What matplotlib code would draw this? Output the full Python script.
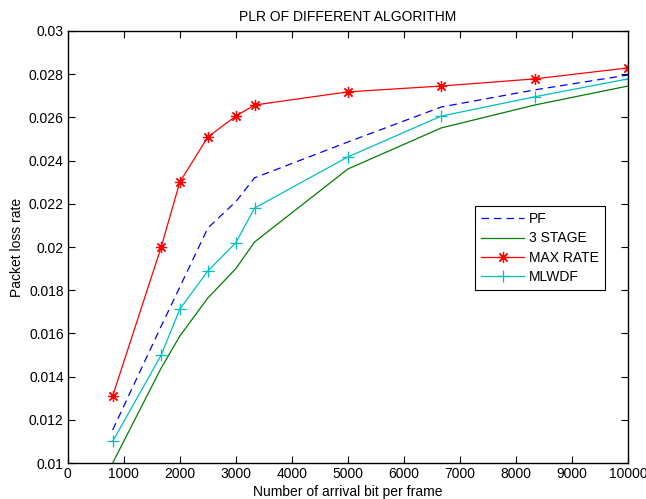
import matplotlib
matplotlib.use('Agg')
import matplotlib.pyplot as plt

plt.rcParams['font.family'] = ['Liberation Sans', 'DejaVu Sans']

# arrival bits per frame
x = [800, 1667, 2000, 2500, 3000, 3333, 5000, 6667, 8333, 10000]

# packet loss rate per algorithm
pf = [0.01153, 0.01634, 0.01815, 0.02088, 0.02210, 0.02320, 0.02486, 0.02648, 0.02727, 0.02796]
stage3 = [0.01000, 0.01440, 0.01588, 0.01764, 0.01900, 0.02023, 0.02361, 0.02551, 0.02657, 0.02745]
max_rate = [0.01310, 0.02000, 0.02301, 0.02509, 0.02606, 0.02657, 0.02718, 0.02745, 0.02778, 0.02829]
mlwdf = [0.01100, 0.01500, 0.01713, 0.01889, 0.02020, 0.02180, 0.02417, 0.02606, 0.02695, 0.02778]

xticks = list(range(0, 10001, 1000))
yticks = [0.01, 0.012, 0.014, 0.016, 0.018, 0.02, 0.022, 0.024, 0.026, 0.028, 0.03]
ytick_labels = ['0.01', '0.012', '0.014', '0.016', '0.018', '0.02', '0.022', '0.024', '0.026', '0.028', '0.03']

fig = plt.figure(figsize=(6.46, 4.99), dpi=100)
ax = fig.add_axes([0.105, 0.072, 0.867, 0.866])

ax.plot(x, pf, color='#0000ff', linestyle=(0, (6, 4)), linewidth=0.9, label='PF')
ax.plot(x, stage3, color='#007f00', linewidth=0.9, label='3 STAGE')
ax.plot(x, max_rate, color='#ff0000', linewidth=0.9, marker=(8, 2, 0), markersize=8,
        markeredgewidth=0.9, label='MAX RATE')
ax.plot(x, mlwdf, color='#00bfbf', linewidth=0.9, marker='+', markersize=8,
        markeredgewidth=0.9, label='MLWDF')

ax.set_xlim(0, 10000)
ax.set_ylim(0.01, 0.03)
ax.set_xticks(xticks)
ax.set_yticks(yticks)
ax.set_yticklabels(ytick_labels)
ax.tick_params(direction='in', top=True, right=True, labelsize=10, length=5, width=0.8, pad=3)
for s in ax.spines.values():
    s.set_linewidth(1.0)

ax.set_title('PLR OF DIFFERENT ALGORITHM', fontsize=10, pad=7)
ax.set_xlabel('Number of arrival bit per frame', fontsize=10, labelpad=3)
ax.set_ylabel('Packet loss rate', fontsize=10, labelpad=3)

leg = ax.legend(loc='lower left', bbox_to_anchor=(0.727, 0.400), fontsize=10, frameon=True,
                fancybox=False, edgecolor='black', framealpha=1, borderpad=0.45,
                handlelength=3.1, labelspacing=0.38, handletextpad=0.35, borderaxespad=0)
leg.get_frame().set_linewidth(0.8)

fig.savefig('out.png', dpi=100)
